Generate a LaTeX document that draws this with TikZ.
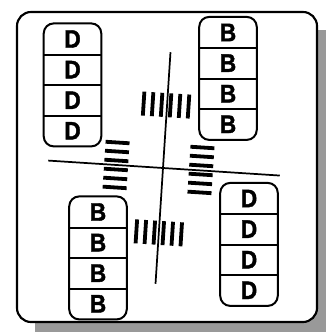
\documentclass[tikz,border=0pt]{standalone}
\usepackage{fontspec}
\setsansfont[BoldFeatures={FakeBold=1.6, FakeStretch=0.9}]{Liberation Sans}
\begin{document}
\begin{tikzpicture}[x=0.75pt, y=-0.75pt,
    cell/.style={rectangle, minimum width=42.75pt, minimum height=23pt, inner sep=0pt,
      font=\sffamily\bfseries\fontsize{19}{19}\selectfont},
    stack/.style={draw, line width=1.5pt, rounded corners=7.5pt},
    road/.style={line width=1.3pt},
    bar/.style={fill=black}]
  \useasboundingbox (0,0) rectangle (326,332);

  % frame and its shadow
  \fill[black!40] (35,30) rectangle (326,332);
  \draw[line width=1.6pt, fill=white, rounded corners=10.5pt] (17,12) rectangle (317,322);

  % the crossing, turned a little
  \begin{scope}[rotate around={-3.7:(163,168)}]
    \draw[road] (163,52) -- (163,284);
    \draw[road] (48,168) -- (280,168);
    \foreach \i in {0,...,5} {
      \fill[bar] ({137.6+9*\i},93) rectangle ++(3.8,24);
      \fill[bar] ({138.6+9*\i},221) rectangle ++(3.8,24);
      \fill[bar] (104,{143.6+9*\i}) rectangle ++(24,3.8);
      \fill[bar] (189,{143.1+9*\i}) rectangle ++(24,3.8);
    }
  \end{scope}

  % parked rows
  \foreach \n/\x/\y/\t in {tl/72.5/39/D, tr/228/32.5/B, bl/98/212/B, br/249/198.5/D} {
    \foreach \k in {1,...,4}
      \node[cell] (\n\k) at (\x,{\y+30.6*(\k-1)}) {\t};
    \draw[stack] (\n1.north west) rectangle (\n4.south east);
    \foreach \k in {1,2,3}
      \draw[line width=1.5pt] (\n\k.south west) -- (\n\k.south east);
  }
\end{tikzpicture}
\end{document}
